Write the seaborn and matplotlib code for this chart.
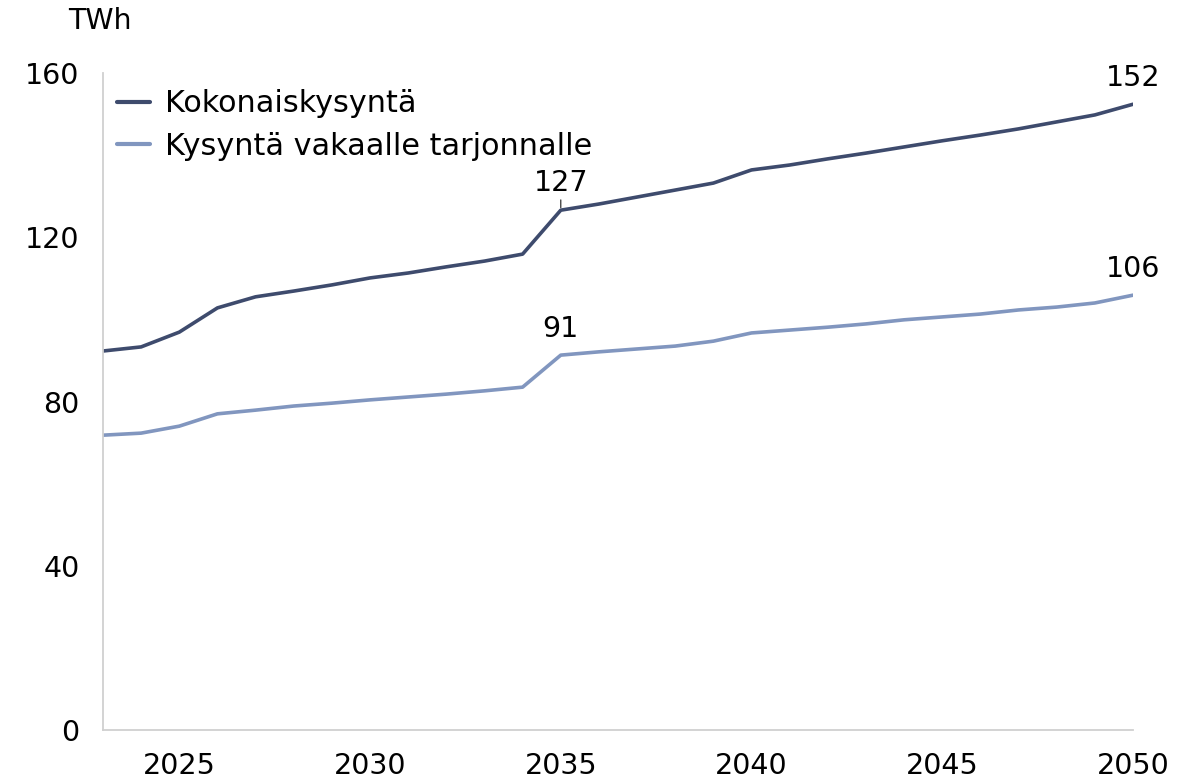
import matplotlib
matplotlib.use("Agg")
import matplotlib.pyplot as plt
import seaborn as sns
import pandas as pd

years = list(range(2023, 2051))
total_demand = [92.3, 93.3, 96.9, 102.8, 105.5, 106.9, 108.4, 110.1, 111.3, 112.8,
                114.2, 115.9, 126.6, 128.1, 129.8, 131.5, 133.2, 136.4, 137.6, 139.1,
                140.5, 142.0, 143.5, 144.9, 146.4, 148.1, 149.8, 152.4]
stable_demand = [71.8, 72.3, 74.0, 77.0, 77.9, 78.9, 79.6, 80.4, 81.1, 81.8,
                 82.6, 83.5, 91.3, 92.1, 92.8, 93.5, 94.7, 96.7, 97.4, 98.1,
                 98.9, 99.9, 100.6, 101.3, 102.3, 103.0, 104.0, 105.9]
series_names = ["Kokonaiskysyntä", "Kysyntä vakaalle tarjonnalle"]
x_ticks = [2025, 2030, 2035, 2040, 2045, 2050]
y_ticks = [0, 40, 80, 120, 160]

df = pd.DataFrame({
    "Vuosi": years * 2,
    "TWh": total_demand + stable_demand,
    "Sarja": [series_names[0]] * len(years) + [series_names[1]] * len(years),
})

sns.set_theme(style="white")
plt.rcParams["font.family"] = ["DejaVu Sans"]
plt.rcParams["font.sans-serif"] = ["DejaVu Sans"]
plt.rcParams["text.color"] = "black"

FS = 20.5
LFS = 21.8

fig = plt.figure(figsize=(11.92, 7.82), dpi=100)
ax = fig.add_axes([0.0864, 0.0665, 0.8641, 0.8401])

palette = {series_names[0]: "#3E4B6D", series_names[1]: "#8196BF"}
sns.lineplot(data=df, x="Vuosi", y="TWh", hue="Sarja", palette=palette,
             linewidth=2.6, ax=ax, legend=True)

ax.set_xlim(2023, 2050)
ax.set_ylim(0, 160)
ax.set_xticks(x_ticks)
ax.set_yticks(y_ticks)
ax.set_xlabel("")
ax.set_ylabel("")

for s in ["top", "right"]:
    ax.spines[s].set_visible(False)
for s in ["left", "bottom"]:
    ax.spines[s].set_color("#D0D0D0")
    ax.spines[s].set_linewidth(1.3)
ax.tick_params(axis="both", which="both", direction="out", length=7, width=1.3,
               color="#D0D0D0", labelsize=FS, labelcolor="black")
ax.tick_params(axis="y", pad=10)
ax.tick_params(axis="x", pad=9)

fig.text(68 / 1192, 1 - 21 / 782, "TWh", fontsize=FS, ha="left", va="center", color="black")

leg = ax.legend(loc="upper left", bbox_to_anchor=(-0.004, 1.003), frameon=False,
                fontsize=LFS, handlelength=1.1, handletextpad=0.5, labelspacing=0.45,
                borderaxespad=0.2)
for line in leg.get_lines():
    line.set_linewidth(3)
for t in leg.get_texts():
    t.set_color("black")

# Data labels
i35 = years.index(2035)
ax.annotate(f"{round(total_demand[i35])}", xy=(2035, total_demand[i35] + 0.6),
            xytext=(2035, total_demand[i35] + 3.3), ha="center", va="bottom", fontsize=FS,
            color="black",
            arrowprops=dict(arrowstyle="-", color="#333333", lw=0.9, shrinkA=0, shrinkB=0))
ax.text(2035, stable_demand[i35] + 3.0, f"{round(stable_demand[i35])}", ha="center",
        va="bottom", fontsize=FS, color="black")
ax.text(2050, total_demand[-1] + 3.0, f"{round(total_demand[-1])}", ha="center",
        va="bottom", fontsize=FS, clip_on=False, color="black")
ax.text(2050, stable_demand[-1] + 3.0, f"{round(stable_demand[-1])}", ha="center",
        va="bottom", fontsize=FS, clip_on=False, color="black")

fig.savefig("out.png", dpi=100)
